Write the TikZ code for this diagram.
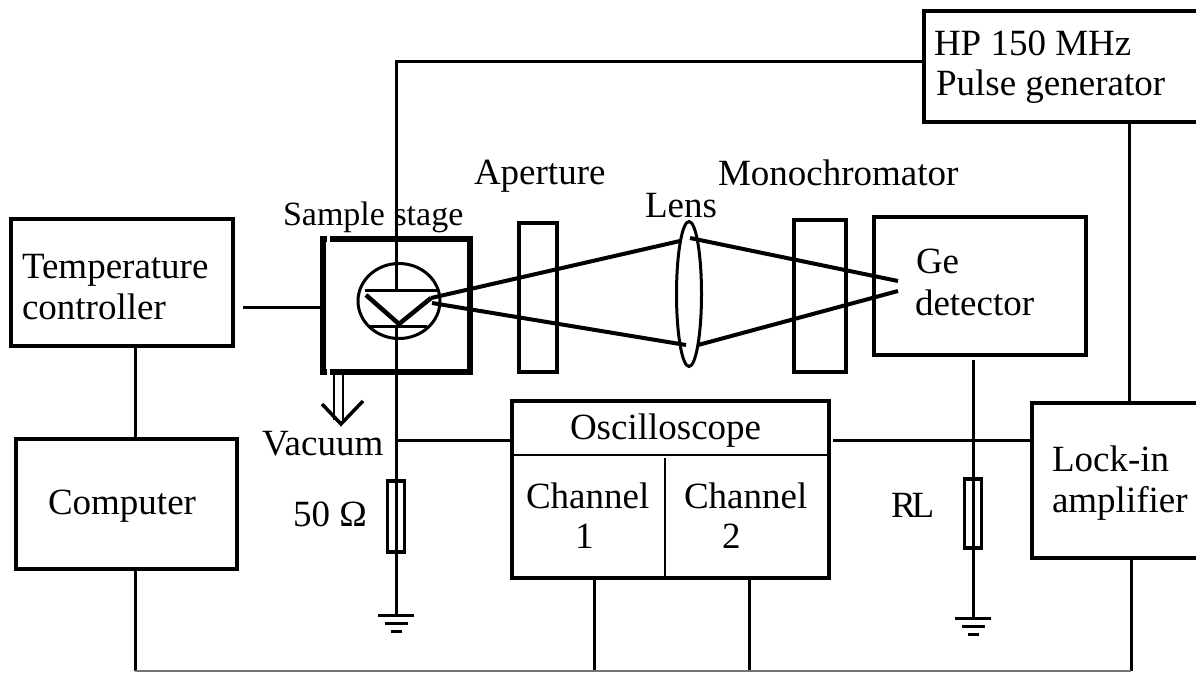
\documentclass[tikz,border=0pt]{standalone}
\usepackage{fontspec}
\usetikzlibrary{shapes.geometric}
\setmainfont{Liberation Serif}
\tikzset{
  wire/.style={line width=3pt},
  beam/.style={line width=4pt},
  box/.style={draw,line width=3.2pt,inner sep=0pt,outer sep=0pt,rectangle},
  txt/.style={anchor=base west,inner sep=0pt,outer sep=0pt,font=\fontsize{37}{44}\selectfont},
  smalltxt/.style={txt,font=\fontsize{34}{40}\selectfont},
  res/.style={box,minimum width=17pt},
  ground/.pic={
    \draw[line width=3pt] (-18,0) -- (18,0);
    \draw[line width=3pt] (-11,8) -- (12,8);
    \draw[line width=3pt] (-5,16) -- (6,16);
  }
}
\begin{document}
\begin{tikzpicture}[x=1pt,y=-1pt]
\useasboundingbox (0,0) rectangle (1196,673);
\clip (0,0) rectangle (1196,673);
\fill[white] (0,0) rectangle (1196,673);

% free ends and junctions
\coordinate (busL) at (135,671);
\coordinate (busR) at (1131,671);
\coordinate (ch1) at (594,671);
\coordinate (ch2) at (749,671);
\coordinate (feed) at (396,61);
\coordinate (gndA) at (396,615);
\coordinate (gndB) at (973,618);
\coordinate (juncA) at (396,440);
\coordinate (juncB) at (973,440);
\coordinate (hpOut) at (1129,122);
\coordinate (tempOut) at (243,307);

% boxes
\node[box,minimum width=286pt,minimum height=111pt] (hp) at (1067,66.5) {};
\node[box,minimum width=222pt,minimum height=127pt] (temp) at (122,282.5) {};
\node[box,minimum width=221pt,minimum height=130pt] (comp) at (126.5,504) {};
\node[box,line width=6pt,minimum width=147pt,minimum height=133pt] (stage) at (396.5,305.5) {};
\node[box,minimum width=38pt,minimum height=149pt] (apert) at (538,297.5) {};
\node[box,minimum width=52pt,minimum height=152pt] (mono) at (820,296) {};
\node[box,minimum width=212pt,minimum height=138pt] (ge) at (980,286) {};
\node[box,minimum width=317pt,minimum height=177pt] (osc) at (670.5,489.5) {};
\node[box,minimum width=190pt,minimum height=155pt] (lock) at (1127,480.5) {};
\node[res,minimum height=71pt] (r1) at (396,516.5) {};
\node[res,minimum height=69pt] (r2) at (973,513.5) {};
\node[draw,ellipse,line width=3pt,inner sep=0pt,outer sep=0pt,minimum width=25pt,minimum height=145pt] (lens) at (689,294) {};
\node[draw,ellipse,line width=3pt,inner sep=0pt,outer sep=0pt,minimum width=82pt,minimum height=75pt] (holder) at (399,301) {};

% small gaps at the stage's left corners
\draw[white,line width=3pt] (328,235) -- (328,243);
\draw[white,line width=3pt] (328,368) -- (328,376);

% oscilloscope dividers
\coordinate (oscDivL) at (512,455);
\coordinate (oscDivR) at (829,455);
\coordinate (oscMid) at (665,458);
\draw[line width=2.5pt] (oscDivL) -- (oscDivR);
\draw[line width=1.8pt] (oscMid) -- (oscMid |- osc.south);

% wiring
\draw[wire] (hp.west |- feed) -- (feed) -- (396,290);
\draw[wire] (396,325) -- (juncA) -- (r1.north);
\draw[wire] (r1.north) -- (r1.south) -- (gndA);
\draw[wire] (juncA) -- (osc.west |- juncA);
\draw[wire] (osc.east |- juncB) ++(4,0) -- (lock.west |- juncB);
\draw[wire] (ge.south -| juncB) ++(0,5) -- (r2.north);
\draw[wire] (r2.north) -- (r2.south) -- (gndB);
\draw[wire] (hpOut) -- (lock.north -| hpOut);
\draw[wire] (lock.south -| busR) -- (busR);
\draw[wire] (temp.south -| busL) -- (comp.north -| busL);
\draw[wire] (comp.south -| busL) -- (busL);
\draw[wire] (osc.south -| ch1) -- (ch1);
\draw[wire] (osc.south -| ch2) -- (ch2);
\draw[line width=1.5pt,black!55] (busL) -- (busR);
\draw[wire] (tempOut) -- (stage.west |- tempOut);
\pic at (gndA) {ground};
\pic at (gndB) {ground};

% sample holder optics
\coordinate (tipV) at (399,324);
\coordinate (mirL) at (366,295);
\coordinate (mirR) at (431,298);
\draw[line width=3pt] (365,290) -- (437,290);
\draw[line width=3pt] (370,326) -- (427,326);
\draw[line width=4.5pt] (mirL) -- (tipV) -- (mirR);

% light path
\coordinate (focusA) at (898,281);
\coordinate (focusB) at (898,291);
\draw[beam] (mirR) -- (680,241);
\draw[beam] (432,303) -- (686,345);
\draw[beam] (690,238) -- (focusA);
\draw[beam] (698,345) -- (focusB);

% vacuum arrow
\coordinate (vacTip) at (341,424);
\draw[line width=2.5pt] (334,375) -- (334,420);
\draw[line width=2.5pt] (343,375) -- (343,420);
\draw[line width=3.5pt] (322,404) -- (vacTip) -- (363,401);

% labels
\node[txt] (tHP) at (934,55) {HP 150 MHz};
\node[txt] (tPG) at (936,95) {Pulse generator};
\node[txt] (tAp) at (474,184) {Aperture};
\node[txt] (tMono) at (718,185) {Monochromator};
\node[txt] (tLens) at (645,217) {Lens};
\node[smalltxt] (tStage) at (283,225) {Sample stage};
\node[txt] (tTemp) at (22,278) {Temperature};
\node[txt] (tCtrl) at (22,319) {controller};
\node[txt] (tComp) at (48,514) {Computer};
\node[txt] (tVac) at (262,455) {Vacuum};
\node[txt] (tOhm) at (293,526) {50 Ω};
\node[txt] (tOsc) at (570,439) {Oscilloscope};
\node[txt] (tCh1) at (526,508) {Channel};
\node[txt] (tOne) at (575,548) {1};
\node[txt] (tCh2) at (684,508) {Channel};
\node[txt] (tTwo) at (722,548) {2};
\node[txt] (tGe) at (916,273) {Ge};
\node[txt] (tDet) at (915,315) {detector};
\node[txt] (tRL) at (891,517) {R\kern-4pt L};
\node[txt] (tLock) at (1052,471) {Lock-in};
\node[txt] (tAmp) at (1052,512) {amplifier};
\end{tikzpicture}
\end{document}
